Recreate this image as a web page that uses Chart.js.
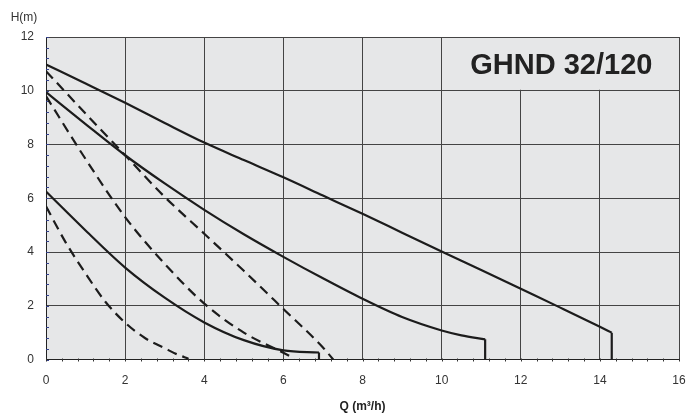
<!DOCTYPE html>
<html>
<head>
<meta charset="utf-8">
<script src="https://cdn.jsdelivr.net/npm/chart.js@4.4.1/dist/chart.umd.min.js"></script>
<style>
  html, body { margin: 0; padding: 0; background: #fff; }
  #wrap { width: 689px; height: 414px; }
</style>
</head>
<body>
<div id="wrap"><canvas id="pump" width="689" height="414"></canvas></div>
<script>
// pump curves, Q in m3/h, H in m
const flowMax = [0, 1, 2, 3, 4, 5, 6, 7, 8, 9, 10, 11, 12, 13, 14, 14.3];
const headMax = [10.98, 10.27, 9.55, 8.8, 8.07, 7.42, 6.78, 6.1, 5.42, 4.72, 4.02, 3.33, 2.63, 1.93, 1.22, 1.0];

const flowMid = [0, 1, 2, 3, 4, 5, 6, 7, 8, 9, 10, 10.5, 11.1];
const headMid = [9.95, 8.76, 7.6, 6.55, 5.57, 4.66, 3.82, 3.02, 2.26, 1.58, 1.08, 0.9, 0.75];

const flowMin = [0, 1, 2, 3, 4, 5, 6, 6.9];
const headMin = [6.25, 4.8, 3.42, 2.3, 1.38, 0.72, 0.34, 0.26];

const flowDashMax = [0, 1, 2, 3, 4, 5, 6, 7, 7.26];
const headDashMax = [10.73, 9.15, 7.6, 6.05, 4.68, 3.3, 1.88, 0.45, 0];

const flowDashMid = [0, 1, 2, 3, 4, 5, 6, 6.28];
const headDashMid = [9.8, 7.46, 5.3, 3.56, 2.08, 1.0, 0.25, 0.03];

const flowDashMin = [0, 0.5, 1, 1.5, 2, 2.5, 3, 3.3, 3.6];
const headDashMin = [5.7, 4.35, 3.2, 2.15, 1.37, 0.8, 0.42, 0.2, 0.03];

const xTicks = [0, 2, 4, 6, 8, 10, 12, 14, 16];
const yTicks = [0, 2, 4, 6, 8, 10, 12];
const modelName = 'GHND 32/120';

const FONT = "'Liberation Sans', Arial, Helvetica, sans-serif";
const INK = '#1c1c1c';

function pts(qs, hs) {
  return qs.map((q, i) => ({ x: q, y: hs[i] }));
}

// vertical drop at the end of the solid curves
function drop(qs, hs) {
  const n = qs.length - 1;
  return [{ x: qs[n], y: hs[n] }, { x: qs[n], y: 0 }];
}

function curve(qs, hs, dashed) {
  return {
    data: pts(qs, hs),
    borderColor: INK,
    borderWidth: 2.2,
    borderDash: dashed ? [10, 6] : [],
    pointRadius: 0,
    cubicInterpolationMode: 'monotone',
    fill: false
  };
}

function dropLine(qs, hs) {
  return {
    data: drop(qs, hs),
    borderColor: INK,
    borderWidth: 2.2,
    pointRadius: 0,
    tension: 0,
    fill: false
  };
}

const panel = {
  id: 'panel',
  beforeDraw(chart) {
    const { ctx, chartArea: a } = chart;
    ctx.save();
    ctx.fillStyle = '#e6e7e8';
    ctx.fillRect(a.left, a.top, a.right - a.left, a.bottom - a.top);
    ctx.restore();
  },
  beforeDatasetsDraw(chart) {
    const { ctx, scales: { x, y } } = chart;
    // title box covers the grid in the upper right corner
    const x0 = x.getPixelForValue(10), x1 = x.getPixelForValue(16);
    const y0 = y.getPixelForValue(12), y1 = y.getPixelForValue(10);
    ctx.save();
    ctx.fillStyle = '#e6e7e8';
    ctx.fillRect(x0 + 1, y0 + 1, x1 - x0 - 2, y1 - y0 - 2);
    ctx.fillStyle = '#222';
    ctx.font = 'bold 29px ' + FONT;
    ctx.textAlign = 'center';
    ctx.textBaseline = 'middle';
    ctx.fillText(modelName, (x0 + x1) / 2 + 1, (y0 + y1) / 2 + 2);

    // minor ticks, 5 per major step
    ctx.lineWidth = 1;
    ctx.strokeStyle = '#34408a';
    for (let v = 0; v <= 12.001; v += 0.4) {
      const py = Math.round(y.getPixelForValue(v)) + 0.5;
      ctx.beginPath();
      ctx.moveTo(x.left, py);
      ctx.lineTo(x.left + 3, py);
      ctx.stroke();
    }
    ctx.strokeStyle = '#333';
    for (let v = 0; v <= 16.001; v += 0.4) {
      const px = Math.round(x.getPixelForValue(v)) + 0.5;
      ctx.beginPath();
      ctx.moveTo(px, y.bottom - 1);
      ctx.lineTo(px, y.bottom + 2);
      ctx.stroke();
    }
    ctx.restore();
  },
  afterDraw(chart) {
    const { ctx } = chart;
    ctx.save();
    ctx.fillStyle = '#333';
    ctx.font = '12px ' + FONT;
    ctx.textAlign = 'center';
    ctx.textBaseline = 'middle';
    ctx.fillText('H(m)', 24, 18);
    ctx.restore();
  }
};

new Chart(document.getElementById('pump'), {
  type: 'line',
  data: {
    datasets: [
      curve(flowMax, headMax, false),
      dropLine(flowMax, headMax),
      curve(flowMid, headMid, false),
      dropLine(flowMid, headMid),
      curve(flowMin, headMin, false),
      dropLine(flowMin, headMin),
      curve(flowDashMax, headDashMax, true),
      curve(flowDashMid, headDashMid, true),
      curve(flowDashMin, headDashMin, true)
    ]
  },
  options: {
    responsive: false,
    animation: false,
    layout: { padding: { top: 37, right: 0, left: 0, bottom: 0 } },
    plugins: { legend: { display: false }, tooltip: { enabled: false } },
    scales: {
      x: {
        type: 'linear',
        min: 0,
        max: 16,
        afterBuildTicks(scale) { scale.ticks = xTicks.map(v => ({ value: v })); },
        afterFit(scale) { scale.height = 54.5; scale.paddingRight = 10; },
        ticks: { color: '#333', padding: 14, font: { family: FONT, size: 12 } },
        grid: { color: '#444', lineWidth: 1, drawTicks: false },
        border: { color: '#222', width: 1 },
        title: {
          display: true,
          text: 'Q (m³/h)',
          color: '#222',
          font: { family: FONT, size: 12, weight: 'bold' },
          padding: { top: 0, bottom: 0 }
        }
      },
      y: {
        min: 0,
        max: 12,
        afterBuildTicks(scale) { scale.ticks = yTicks.map(v => ({ value: v })); },
        afterFit(scale) { scale.width = 46; },
        ticks: { color: '#333', padding: 12, font: { family: FONT, size: 12 } },
        grid: { color: '#444', lineWidth: 1, drawTicks: false },
        border: { color: '#222', width: 1 }
      }
    }
  },
  plugins: [panel]
});
</script>
</body>
</html>
